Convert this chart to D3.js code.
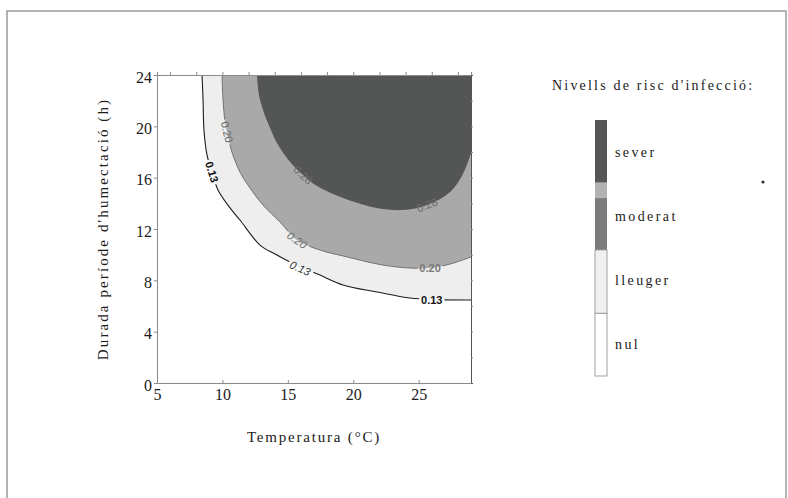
<!DOCTYPE html>
<html>
<head>
<meta charset="utf-8">
<script src="https://cdn.jsdelivr.net/npm/d3@7"></script>
<style>
body { margin:0; background:#fff; }
.serif { font-family:"Liberation Serif","Times New Roman",serif; fill:#1a1a1a; }
.clab { font-family:"Liberation Sans",Arial,sans-serif; font-size:11px; }
</style>
</head>
<body>
<div id="chart"></div>
<script>
// axis ticks
var tempTicks = [5, 10, 15, 20, 25];
var hourTicks = [0, 4, 8, 12, 16, 20, 24];
var tempMinor = [6, 8, 10, 12, 14, 16, 18, 20, 22, 24, 26, 28];
var hourMinor = [2, 4, 6, 8, 10, 12, 14, 16, 18, 20, 22];

// contour lines: [temperatura, hores]
var contour013 = [[8.44,24],[8.52,22.05],[8.59,19.71],[8.82,17.77],[9.20,16.44],[9.66,15.04],[10.58,13.64],
  [11.34,12.70],[12.87,10.75],[14.02,10.05],[15.17,9.43],[15.95,8.95],[17.08,8.57],[19.22,7.64],[21.82,7.09],
  [24.34,6.62],[26.0,6.50],[29,6.47]];
var contour020 = [[9.97,24],[10.04,22.21],[10.20,20.34],[10.35,19.56],[10.73,18.0],[11.34,16.44],[12.11,15.19],
  [13.10,13.87],[14.40,12.55],[15.70,11.14],[17.46,10.36],[19.22,9.90],[22.27,9.19],[24.34,8.96],[25.87,8.96],
  [27.40,9.27],[29,9.82]];
var contourSever = [[12.64,24],[12.80,22.44],[13.10,21.27],[13.64,19.87],[14.17,18.70],[15.17,17.22],[16.16,16.21],
  [17.23,15.35],[19.22,14.42],[21.82,13.64],[23.80,13.48],[25.64,13.87],[27.40,14.88],[28.39,16.29],[29,17.9]];

// labels: index of the contour point where the label sits
var labels013 = [4, 11, 16];
var labels020 = [3, 9, 14];
var labelsSever = [6, 11];

// legend
var legendLevels = ["sever", "moderat", "lleuger", "nul"];
var legendBands = [[3.02, 4], [2.78, 3.02], [1.97, 2.78], [0.98, 1.97], [0, 0.98]];
var legendFills = ["#555655", "#b2b2b2", "#7b7b7b", "#f0f0f0", "#ffffff"];

var W = 788, H = 498;
var svg = d3.select("#chart").append("svg")
  .attr("width", W).attr("height", H);

// outer frame
svg.append("rect")
  .attr("x", 7).attr("y", 11).attr("width", 779).attr("height", 490)
  .attr("fill", "none").attr("stroke", "#a0a0a0").attr("stroke-width", 1.6);

var x = d3.scaleLinear().domain([5, 29]).range([157, 471]);
var y = d3.scaleLinear().domain([0, 24]).range([383, 75]);

var line = d3.line().x(function(d){return x(d[0])}).y(function(d){return y(d[1])}).curve(d3.curveCatmullRom);
var area = function(pts){
  return line(pts) + "L" + x(29) + "," + y(24) + "Z";
}

var defs = svg.append("defs");
defs.append("clipPath").attr("id", "plotclip").append("rect")
  .attr("x", x(5)).attr("y", y(24)).attr("width", x(29) - x(5)).attr("height", y(0) - y(24));
var mask = defs.append("mask").attr("id", "gaps").attr("maskUnits", "userSpaceOnUse")
  .attr("x", 0).attr("y", 0).attr("width", W).attr("height", H);
mask.append("rect").attr("width", W).attr("height", H).attr("fill", "white");

var plot = svg.append("g").attr("clip-path", "url(#plotclip)");
plot.append("path").attr("d", area(contour013)).attr("fill", "#eeeeee");
plot.append("path").attr("d", area(contour020)).attr("fill", "#a9a9a9");
plot.append("path").attr("d", area(contourSever)).attr("fill", "#545655");

var lines = plot.append("g").attr("mask", "url(#gaps)");
lines.append("path").attr("d", line(contour020)).attr("fill", "none")
  .attr("stroke", "#727272").attr("stroke-width", 1);
lines.append("path").attr("d", line(contour013)).attr("fill", "none")
  .attr("stroke", "#1c1c1c").attr("stroke-width", 1.1);

// contour labels, angle taken from the neighbouring points
function addLabels(pts, idx, txt, styles){
  idx.forEach(function(i, k){
    var p0 = pts[Math.max(0, i-1)], p1 = pts[Math.min(pts.length-1, i+1)];
    var ang = Math.atan2(y(p1[1]) - y(p0[1]), x(p1[0]) - x(p0[0])) * 180 / Math.PI;
    if(Math.abs(ang) < 12) ang = 0;
    var tr = "translate(" + x(pts[i][0]) + "," + y(pts[i][1]) + ") rotate(" + ang + ")";
    var st = styles[k];
    var t = svg.append("text").attr("class", "clab")
      .attr("transform", tr).attr("text-anchor", "middle").attr("dy", "0.36em")
      .attr("fill", st.c).style("font-weight", st.w).style("font-style", st.i ? "italic" : "normal")
      .text(txt);
    var b = t.node().getBBox();
    mask.append("rect").attr("transform", tr)
      .attr("x", b.x - 2).attr("y", b.y + 1).attr("width", b.width + 4).attr("height", b.height - 2)
      .attr("fill", "black");
  });
}
addLabels(contour013, labels013, "0.13", [{c:"#111", w:"bold"}, {c:"#333", w:"normal", i:true}, {c:"#111", w:"bold"}]);
addLabels(contour020, labels020, "0.20", [{c:"#6a6a6a", w:"normal"}, {c:"#6a6a6a", w:"normal", i:true}, {c:"#7a7a7a", w:"bold"}]);
addLabels(contourSever, labelsSever, "0.28", [{c:"#6a6a6a", w:"normal"}, {c:"#6a6a6a", w:"normal"}]);

// axes
var axL = svg.append("g").attr("transform", "translate(" + x(5) + ",0)")
  .call(d3.axisLeft(y).tickValues(hourTicks).tickSize(3).tickPadding(2));
var axB = svg.append("g").attr("transform", "translate(0," + y(0) + ")")
  .call(d3.axisBottom(x).tickValues(tempTicks).tickSizeInner(-3).tickSizeOuter(0).tickPadding(6));
var axT = svg.append("g").attr("transform", "translate(0," + y(24) + ")")
  .call(d3.axisTop(x).tickValues(tempMinor).tickSize(3).tickFormat(""));
var axR = svg.append("g").attr("transform", "translate(" + x(29) + ",0)")
  .call(d3.axisRight(y).tickValues(hourMinor).tickSize(2).tickFormat(""));
[axL, axB, axT, axR].forEach(function(a){
  a.select(".domain").attr("stroke", "#8a8a8a");
  a.selectAll(".tick line").attr("stroke", "#8a8a8a");
  a.selectAll(".tick text").attr("class", "serif").style("font-size", "16px").attr("fill", "#1a1a1a");
});
axL.selectAll(".tick text").attr("dy", "0.45em");
axR.select(".domain").attr("stroke", "#555");

svg.append("text").attr("class", "serif")
  .attr("x", 314).attr("y", 442).attr("text-anchor", "middle")
  .style("font-size", "15px").style("letter-spacing", "1.8px")
  .text("Temperatura (°C)");
svg.append("text").attr("class", "serif")
  .attr("transform", "translate(108," + y(12) + ") rotate(-90)").attr("text-anchor", "middle")
  .style("font-size", "15px").style("letter-spacing", "2.1px")
  .text("Durada període d'humectació (h)");

// legend
var ly = d3.scaleLinear().domain([0, 4]).range([376, 120]);
var lg = svg.append("g");
lg.append("text").attr("class", "serif")
  .attr("x", 552).attr("y", 90)
  .style("font-size", "14px").style("letter-spacing", "2.2px")
  .text("Nivells de risc d'infecció:");
lg.selectAll("rect.band").data(legendBands).enter().append("rect")
  .attr("x", 595).attr("width", 12)
  .attr("y", function(d){return ly(d[1])})
  .attr("height", function(d){return ly(d[0]) - ly(d[1])})
  .attr("fill", function(d, i){return legendFills[i]})
  .attr("stroke", function(d, i){return i > 2 ? "#8a8a8a" : "none"})
  .attr("stroke-width", 0.8);
lg.selectAll("text.lvl").data(legendLevels).enter().append("text")
  .attr("class", "serif")
  .attr("x", 615)
  .attr("y", function(d, i){return ly(3.5 - i) + 5})
  .style("font-size", "14px").style("letter-spacing", "2.4px")
  .text(function(d){return d});
lg.append("circle").attr("cx", 763).attr("cy", 182).attr("r", 1.6).attr("fill", "#333");
</script>
</body>
</html>
